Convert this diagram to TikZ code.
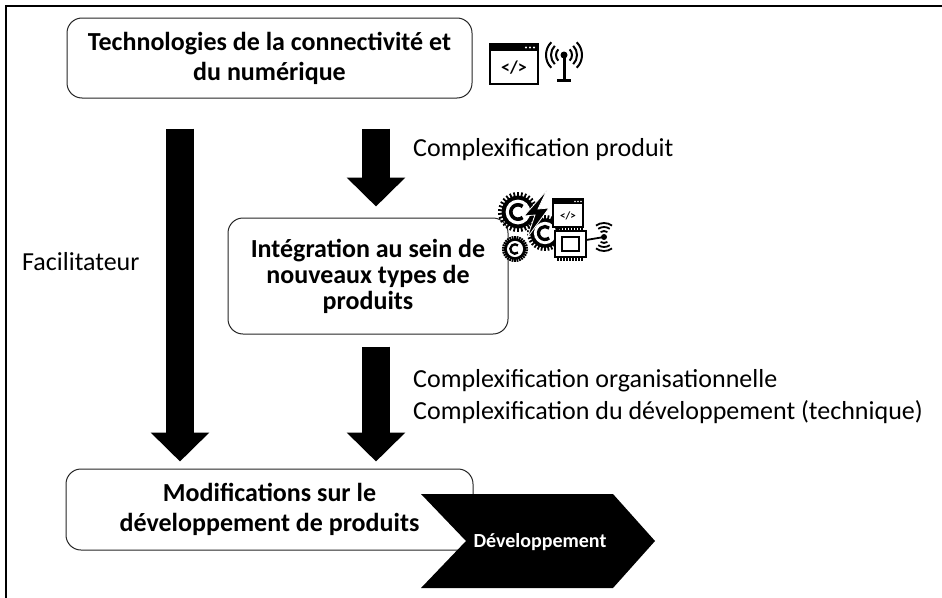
\documentclass[tikz,border=0pt]{standalone}
\usepackage{fontspec}
\setmainfont{Carlito}
\usetikzlibrary{arrows.meta}

\tikzset{
  box/.style={draw=black!85, fill=white, rounded corners=15pt, line width=1pt,
    align=center, inner sep=0pt, font=\bfseries\fontsize{26}{30}\selectfont},
  bigarrow/.style={line width=28pt, -{Triangle[width=57pt,length=29pt]}},
  lbl/.style={anchor=west, inner sep=0pt, align=left,
    font=\fontsize{26}{31}\selectfont},
  icon/.style={line width=1.8pt},
}

% small gear: x, y, radius
\newcommand{\gearicon}[3]{%
  \foreach \a in {0,12,...,348}
    \fill[rotate around={\a:(#1,#2)}] (#1-0.9,#2-#3) rectangle (#1+0.9,#2-0.75*#3);
  \fill (#1,#2) circle (0.82*#3);
  \fill[white] (#1,#2) circle (0.62*#3);
  \draw[line width=0.18*#3 pt] ([shift={(50:0.36*#3)}]#1,#2)
    arc[start angle=50, end angle=310, radius=0.36*#3];
}

\begin{document}
\begin{tikzpicture}[x=1pt,y=-1pt]
\clip (0,0) rectangle (942,597);
\draw[line width=2.4pt] (6,6) rectangle (1100,800);

% boxes
\node[box, minimum width=405pt, minimum height=80pt] (tech) at (269.5,58)
  {Technologies de la connectivité et\\du numérique};
\node[box, minimum width=280pt, minimum height=116pt,
  font=\bfseries\fontsize{26}{26}\selectfont] (integ) at (368,276)
  {Intégration au sein de\\nouveaux types de\\produits};
\node[box, minimum width=407pt, minimum height=81pt] (modif) at (269.5,509.5)
  {Modifications sur le\\développement de produits};

% block arrows
\coordinate (lft) at (180,0);
\coordinate (mid) at (376,0);
\draw[bigarrow, shorten <=30pt, shorten >=7pt] (tech.south -| lft) -- (modif.north -| lft);
\draw[bigarrow, shorten <=30pt, shorten >=11pt] (tech.south -| mid) -- (integ.north -| mid);
\draw[bigarrow, shorten <=12pt, shorten >=7pt] (integ.south -| mid) -- (modif.north -| mid);

% labels
\node[lbl] (cplxprod) at (413,150) {Complexification produit};
\node[lbl] (facil) at (22,262) {Facilitateur};
\node[lbl] (cplxorg) at (413,381) {Complexification organisationnelle};
\node[lbl] (cplxdev) at (413,412) {Complexification du développement (technique)};

% chevron
\fill (421,494) -- (613,494) -- (655,541) -- (613,588) -- (421,588) -- (466,541) -- cycle;
\node[text=white, font=\bfseries\fontsize{20}{24}\selectfont] (dev) at (540,542) {Développement};

% icon: window + antenna
\draw[icon] (490,44) rectangle (538,84);
\fill (490,44) rectangle (538,51);
\foreach \x in {526,530,534} \fill[white] (\x,47.5) circle (1.2pt);
\node[font=\bfseries\fontsize{18}{18}\selectfont] (code) at (514,68) {</>};
\foreach \r in {8,13,18} {
  \draw[icon, line width=2pt] ([shift={(-45:\r)}]564,55) arc[start angle=-45, end angle=45, radius=\r];
  \draw[icon, line width=2pt] ([shift={(135:\r)}]564,55) arc[start angle=135, end angle=225, radius=\r];
}
\fill (564,55) circle (3.5pt);
\draw[line width=3pt] (564,55) -- (564,79);
\draw[line width=3pt] (557,80) -- (571,80);

% icon: gears, bolt, window, chip, wireless
\gearicon{518}{212}{20}
\gearicon{545}{233}{18}
\gearicon{515}{249}{13}
\fill[draw=white, line width=0.8pt] (547,190) -- (524,216) -- (535,215) -- (527,238) -- (549,208) -- (538,209) -- cycle;
\draw[line width=1.5pt, fill=white] (553,199) rectangle (583,227);
\fill (553,199) rectangle (583,204);
\foreach \x in {575,578,581} \fill[white] (\x,201.5) circle (0.8pt);
\node[font=\bfseries\fontsize{11}{11}\selectfont] (code2) at (568,216) {</>};
\foreach \x in {558,561,...,584} {
  \draw[line width=1.2pt] (\x,227) -- (\x,231);
  \draw[line width=1.2pt] (\x,257) -- (\x,261);
}
\draw[line width=2pt, fill=white] (555,231) rectangle (586,257);
\draw[line width=1.6pt] (562,237) rectangle (579,251);
\fill (604,237) circle (3pt);
\draw[line width=1.8pt] (586,240) -- (604,237);
\foreach \r in {6,10,14} {
  \draw[line width=1.8pt] ([shift={(235:\r)}]604,237) arc[start angle=235, end angle=305, radius=\r];
  \draw[line width=1.8pt] ([shift={(55:\r)}]604,237) arc[start angle=55, end angle=125, radius=\r];
}
\end{tikzpicture}
\end{document}
